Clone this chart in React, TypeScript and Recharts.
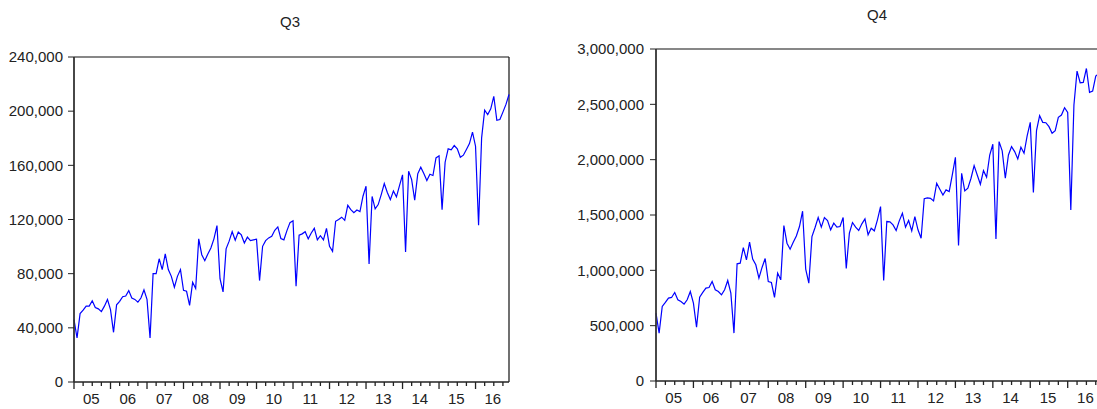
import React from "react";
import { LineChart, Line, XAxis, YAxis, ReferenceLine } from "recharts";

// monthly observations, 2005M01 .. 2016M12
const yearLabels = ["05", "06", "07", "08", "09", "10", "11", "12", "13", "14", "15", "16"];

const q3Values = [
  46000, 32500, 50500, 53000, 56000, 56000, 60000, 55000, 54000, 52000, 56000, 61000,
  53500, 36700, 57000, 59600, 63000, 63500, 67500, 62000, 61000, 59000, 62000, 68000,
  61000, 32500, 80000, 80000, 91000, 83000, 94600, 83000, 78000, 70000, 78000, 83000,
  67700, 67000, 56600, 73600, 69000, 105700, 94000, 89600, 94600, 99000, 105700, 115500,
  76300, 66500, 98300, 104000, 111000, 104700, 110800, 108600, 102700, 107000, 104400, 105000,
  105400, 74900, 100200, 104400, 106400, 107600, 112000, 114500, 106000, 105000, 111800, 117700,
  119000, 70700, 108400, 109400, 111000, 105700, 110000, 113500, 105000, 108000, 105000, 113500,
  100200, 96500, 118700, 120000, 121700, 119400, 130500, 127300, 125000, 127000, 125900, 137200,
  144600, 87200, 137000, 127800, 131000, 138400, 146500, 140000, 134700, 141000, 136700, 145000,
  153000, 96000, 155700, 149500, 134200, 153700, 158600, 154000, 148800, 153400, 152500, 165500,
  167000, 127300, 162300, 172200, 171400, 174600, 172200, 166000, 167500, 171700, 176100, 184500,
  174100, 115800, 180300, 200700, 197500, 201700, 211000, 193300, 193800, 199300, 205000, 212300,
];

const q4Values = [
  613600, 433000, 673800, 710000, 749000, 755000, 800000, 734000, 719000, 695000, 734000, 809000,
  704000, 487000, 758000, 800000, 839000, 845000, 899000, 824000, 809000, 779000, 824000, 908000,
  794000, 433000, 1059000, 1065000, 1206000, 1095000, 1254000, 1101000, 1050000, 929000, 1026000, 1107000,
  899000, 890000, 755000, 975000, 914000, 1405000, 1245000, 1191000, 1254000, 1311000, 1396000, 1534000,
  1011000, 884000, 1305000, 1387000, 1477000, 1390000, 1477000, 1450000, 1366000, 1426000, 1390000, 1396000,
  1477000, 1017000, 1336000, 1432000, 1390000, 1360000, 1420000, 1465000, 1321000, 1381000, 1357000, 1456000,
  1576000, 908000, 1441000, 1438000, 1411000, 1360000, 1447000, 1516000, 1390000, 1450000, 1357000, 1486000,
  1366000, 1290000, 1648000, 1654000, 1651000, 1627000, 1787000, 1733000, 1681000, 1727000, 1712000, 1862000,
  2021000, 1224000, 1877000, 1718000, 1742000, 1832000, 1946000, 1862000, 1778000, 1901000, 1841000, 2042000,
  2139000, 1284000, 2163000, 2079000, 1832000, 2042000, 2118000, 2073000, 2006000, 2112000, 2058000, 2214000,
  2337000, 1703000, 2262000, 2397000, 2337000, 2334000, 2298000, 2238000, 2262000, 2382000, 2403000, 2470000,
  2427000, 1546000, 2494000, 2800000, 2695000, 2698000, 2824000, 2608000, 2620000, 2755000, 2780000, 2790000,
];

const q3Ticks = [0, 40000, 80000, 120000, 160000, 200000, 240000];
const q4Ticks = [0, 500000, 1000000, 1500000, 2000000, 2500000, 3000000];

const rows = q3Values.map((v, i) => ({ t: i, q3: v, q4: q4Values[i] }));
const lastT = rows.length - 1;
const quarterTicks = rows.filter((r) => r.t % 3 === 0).map((r) => r.t);

const FONT = "'Liberation Sans', Arial, sans-serif";
const fmt = (v: number) => v.toLocaleString("en-US");

function QuarterTick(props: any) {
  const { x, y, payload } = props;
  const v = payload.value as number;
  const major = v % 12 === 0;
  return (
    <g>
      <line x1={x} x2={x} y1={y} y2={y + (major ? 7 : 4)} stroke="#222" strokeWidth={1.3} />
      {v % 12 === 6 && (
        <text x={x - 1} y={y + 22} textAnchor="middle" fill="#222" fontSize={15} fontFamily={FONT}>
          {yearLabels[Math.floor(v / 12)]}
        </text>
      )}
    </g>
  );
}

function Panel(props: {
  title: string;
  dataKey: string;
  ticks: number[];
  left: number;
  width: number;
  top: number;
  bottom: number;
  yWidth: number;
  right: number;
  tickMargin: number;
  titleX: number;
  titleY: number;
}) {
  const { title, dataKey, ticks, left, width, top, bottom, yWidth, right, tickMargin, titleX, titleY } = props;
  const yMax = ticks[ticks.length - 1];
  return (
    <>
      <div
        style={{
          position: "absolute",
          left: titleX,
          top: titleY,
          transform: "translate(-50%, -50%)",
          fontFamily: FONT,
          fontSize: 15,
          color: "#222",
          whiteSpace: "nowrap",
        }}
      >
        {title}
      </div>
      <div style={{ position: "absolute", left, top: 0 }}>
        <LineChart width={width} height={409} data={rows} margin={{ top, right, left: 0, bottom: 0 }}>
          <XAxis
            dataKey="t"
            type="number"
            domain={[0, lastT]}
            ticks={quarterTicks}
            interval={0}
            height={409 - bottom}
            tickSize={0}
            tickMargin={0}
            tickLine={false}
            tick={<QuarterTick />}
            axisLine={{ stroke: "#222", strokeWidth: 1.3 }}
          />
          <YAxis
            type="number"
            domain={[0, yMax]}
            ticks={ticks}
            interval={0}
            width={yWidth}
            tickSize={6}
            tickMargin={tickMargin}
            tickFormatter={fmt}
            tick={{ fill: "#222", fontSize: 15, fontFamily: FONT }}
            tickLine={{ stroke: "#222" }}
            axisLine={{ stroke: "#333", strokeWidth: 1.8 }}
          />
          <ReferenceLine y={yMax} stroke="#111" strokeWidth={1.2} />
          <ReferenceLine x={lastT} stroke="#111" strokeWidth={1.2} />
          <Line
            type="linear"
            dataKey={dataKey}
            stroke="#0000FF"
            strokeWidth={1.2}
            dot={false}
            isAnimationActive={false}
          />
        </LineChart>
      </div>
    </>
  );
}

export default function App() {
  return (
    <div
      style={{
        position: "fixed",
        left: 0,
        top: 0,
        width: 1097,
        height: 409,
        overflow: "hidden",
        background: "#fff",
      }}
    >
      <Panel
        title="Q3"
        dataKey="q3"
        ticks={q3Ticks}
        left={0}
        width={520}
        top={57}
        bottom={382}
        yWidth={74}
        right={11}
        tickMargin={5}
        titleX={290}
        titleY={21}
      />
      <Panel
        title="Q4"
        dataKey="q4"
        ticks={q4Ticks}
        left={560}
        width={560}
        top={49}
        bottom={381}
        yWidth={96}
        right={18}
        tickMargin={6}
        titleX={877}
        titleY={14}
      />
    </div>
  );
}
